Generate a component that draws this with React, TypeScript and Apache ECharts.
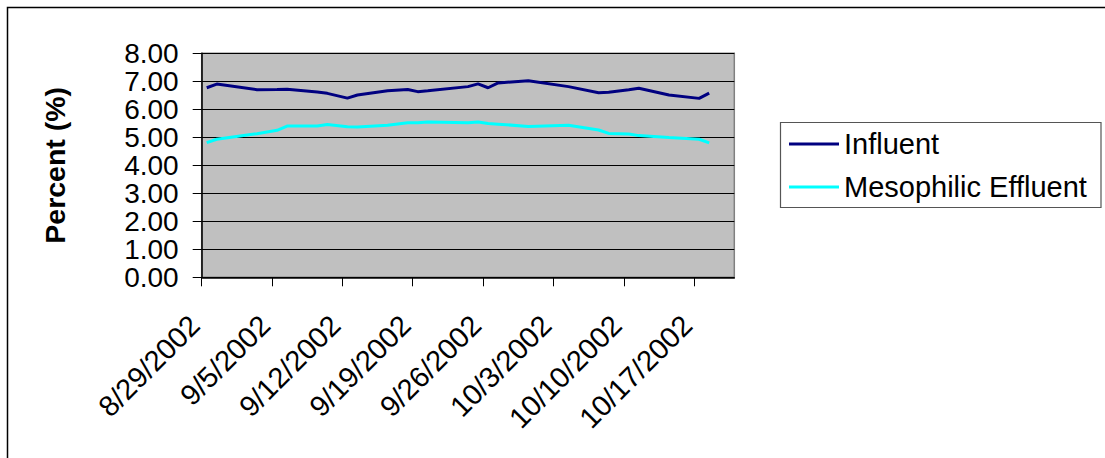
import React, { useEffect, useRef } from "react";
import * as echarts from "echarts";

// Sampling dates and measured percentages
const DATES = [
  "8/29/2002", "8/30/2002", "9/3/2002", "9/5/2002", "9/6/2002", "9/9/2002",
  "9/10/2002", "9/12/2002", "9/13/2002", "9/16/2002", "9/18/2002", "9/19/2002",
  "9/20/2002", "9/24/2002", "9/25/2002", "9/26/2002", "9/27/2002", "9/30/2002",
  "10/4/2002", "10/7/2002", "10/8/2002", "10/10/2002", "10/11/2002", "10/14/2002",
  "10/17/2002", "10/18/2002",
];
const INFLUENT = [
  6.77, 6.9, 6.7, 6.71, 6.72, 6.62, 6.57, 6.4, 6.51, 6.66, 6.71, 6.63, 6.66,
  6.81, 6.91, 6.77, 6.94, 7.02, 6.81, 6.59, 6.61, 6.7, 6.75, 6.51, 6.39, 6.58,
];
const MESOPHILIC = [
  4.81, 4.93, 5.13, 5.25, 5.4, 5.4, 5.46, 5.38, 5.37, 5.43, 5.52, 5.52, 5.55,
  5.52, 5.55, 5.49, 5.47, 5.39, 5.43, 5.26, 5.14, 5.12, 5.06, 4.99, 4.93, 4.8,
];
const SERIES_NAMES = ["Influent", "Mesophilic Effluent"];
const AXIS_START = "8/29/2002";
const AXIS_DAYS = 53;
const TICK_STEP_DAYS = 7;
const Y_TITLE = "Percent (%)";

const FONT = '"Liberation Sans", Arial, Helvetica, sans-serif';
const DAY_MS = 86400000;

function parseDate(s: string): number {
  const [m, d, y] = s.split("/").map(Number);
  return Date.UTC(y, m - 1, d);
}
const startMs = parseDate(AXIS_START);
// each day occupies one slot; a sample sits in the middle of its day
const dayPos = (s: string) => (parseDate(s) - startMs) / DAY_MS + 0.5;
const fmtDay = (v: number) => {
  const dt = new Date(startMs + Math.round(v) * DAY_MS);
  return `${dt.getUTCMonth() + 1}/${dt.getUTCDate()}/${dt.getUTCFullYear()}`;
};

const tickValues: number[] = [];
for (let v = 0; v < AXIS_DAYS; v += TICK_STEP_DAYS) tickValues.push(v);

export default function App() {
  const ref = useRef<HTMLDivElement>(null);

  useEffect(() => {
    if (!ref.current) return;
    const chart = echarts.init(ref.current, null, { renderer: "svg" });
    const toPoints = (vals: number[]) => DATES.map((d, i) => [dayPos(d), vals[i]]);

    chart.setOption({
      animation: false,
      backgroundColor: "#ffffff",
      textStyle: { fontFamily: FONT },
      grid: {
        left: 201.7,
        top: 53.3,
        right: 370.7,
        bottom: 180.7,
        show: true,
        backgroundColor: "#c0c0c0",
        borderColor: "#808080",
        borderWidth: 1.5,
      },
      xAxis: {
        type: "value",
        min: 0,
        max: AXIS_DAYS,
        splitLine: { show: false },
        axisLine: { show: true, onZero: false, lineStyle: { color: "#000", width: 1.5 } },
        axisTick: {
          show: true,
          inside: false,
          length: 9,
          customValues: tickValues,
          lineStyle: { color: "#000", width: 1 },
        },
        axisLabel: {
          customValues: tickValues,
          rotate: 45,
          margin: 36,
          padding: [0, 10, 0, 0],
          fontSize: 29,
          fontFamily: FONT,
          color: "#000",
          formatter: (v: number) => fmtDay(v),
        },
      },
      yAxis: {
        type: "value",
        min: 0,
        max: 8,
        interval: 1,
        axisLine: { show: true, lineStyle: { color: "#000", width: 1.5 } },
        axisTick: { show: true, length: 9, lineStyle: { color: "#000", width: 1 } },
        splitLine: { show: true, lineStyle: { color: "#000", width: 1 } },
        axisLabel: {
          margin: 23,
          fontSize: 28,
          fontFamily: FONT,
          color: "#000",
          formatter: (v: number) => v.toFixed(2),
        },
      },
      legend: {
        orient: "vertical",
        left: 789,
        top: 129,
        padding: 0,
        itemWidth: 50,
        itemHeight: 3,
        itemGap: 13,
        icon: "rect",
        textStyle: { fontSize: 29, fontFamily: FONT, color: "#000", lineHeight: 30 },
        data: SERIES_NAMES,
      },
      graphic: [
        {
          type: "rect",
          z: -1,
          shape: { x: 7.5, y: 7.5, width: 1200, height: 600 },
          style: { fill: "none", stroke: "#000", lineWidth: 1.5 },
        },
        {
          type: "rect",
          z: -1,
          shape: { x: 780.5, y: 122.5, width: 320.5, height: 85 },
          style: { fill: "#fff", stroke: "#555", lineWidth: 1.2 },
        },
        {
          type: "text",
          x: 54.5,
          y: 165.3,
          rotation: Math.PI / 2,
          style: {
            text: Y_TITLE,
            font: `bold 28.5px ${FONT}`,
            fill: "#000",
            align: "center",
            verticalAlign: "middle",
          },
        },
      ],
      series: [
        {
          name: SERIES_NAMES[0],
          type: "line",
          data: toPoints(INFLUENT),
          showSymbol: false,
          symbol: "none",
          lineStyle: { color: "#000080", width: 3 },
          itemStyle: { color: "#000080" },
        },
        {
          name: SERIES_NAMES[1],
          type: "line",
          data: toPoints(MESOPHILIC),
          showSymbol: false,
          symbol: "none",
          lineStyle: { color: "#00ffff", width: 3 },
          itemStyle: { color: "#00ffff" },
        },
      ],
    });

    return () => chart.dispose();
  }, []);

  return (
    <div
      ref={ref}
      style={{ position: "absolute", left: 0, top: 0, width: 1105, height: 458 }}
    />
  );
}
